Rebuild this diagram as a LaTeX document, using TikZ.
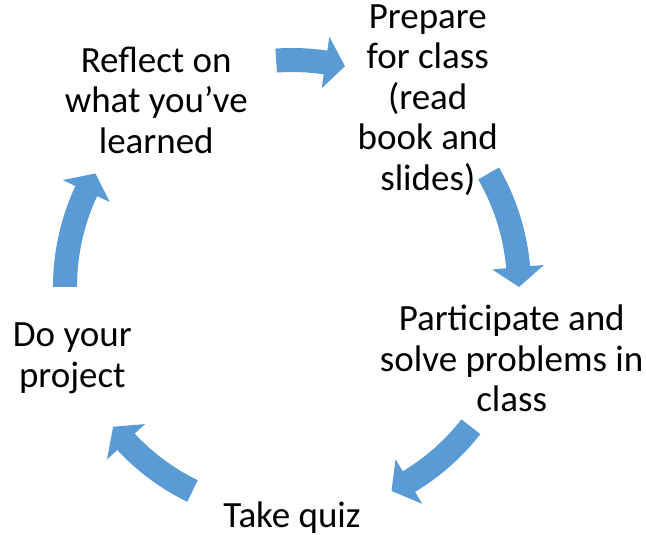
\documentclass[tikz,border=0pt]{standalone}
\usepackage{fontspec}
\setmainfont{Carlito}
\definecolor{cycleblue}{HTML}{5B9BD5}

\begin{document}
\begin{tikzpicture}[
  x=1pt, y=1pt,
  every node/.style={font=\fontsize{37}{40.5}\selectfont, align=center, inner sep=0pt},
  arrowfill/.style={fill=cycleblue, draw=none}
]
\useasboundingbox (0,0) rectangle (646,535);

\begin{scope}[shift={(292,248)}]

% ---------- Stages ----------
\node (prepare)     at (54:231)  {Prepare\\for class\\(read\\book and\\slides)};
\node (participate) at (-18:231) {Participate and\\solve problems in\\class};
\node (quiz)        at (-90:231) {Take quiz};
\node (project)     at (198:231) {Do your\\project};
\node (reflect)     at (126:231) {Reflect on\\what you’ve\\learned};

% ---------- Curved arrows (clockwise) ----------
% reflect -> prepare
\fill[arrowfill] (94:215) -- (94:239) arc[start angle=94, end angle=81.5, radius=239]
  -- (81.5:253) -- (76.5:227) -- (81.5:201) -- (81.5:215)
  arc[start angle=81.5, end angle=94, radius=215] -- cycle;
% prepare -> participate
\fill[arrowfill] (30:215) -- (30:239) arc[start angle=30, end angle=5, radius=239]
  -- (5:253) -- (0:227) -- (5:201) -- (5:215)
  arc[start angle=5, end angle=30, radius=215] -- cycle;
% participate -> quiz
\fill[arrowfill] (-38:215) -- (-38:239) arc[start angle=-38, end angle=-59, radius=239]
  -- (-59:253) -- (-64:227) -- (-59:201) -- (-59:215)
  arc[start angle=-59, end angle=-38, radius=215] -- cycle;
% quiz -> project
\fill[arrowfill] (244:215) -- (244:239) arc[start angle=244, end angle=223, radius=239]
  -- (223:253) -- (218:227) -- (223:201) -- (223:215)
  arc[start angle=223, end angle=244, radius=215] -- cycle;
% project -> reflect
\fill[arrowfill] (180:215) -- (180:239) arc[start angle=180, end angle=155, radius=239]
  -- (155:253) -- (150:227) -- (155:201) -- (155:215)
  arc[start angle=155, end angle=180, radius=215] -- cycle;

\end{scope}
\end{tikzpicture}
\end{document}
